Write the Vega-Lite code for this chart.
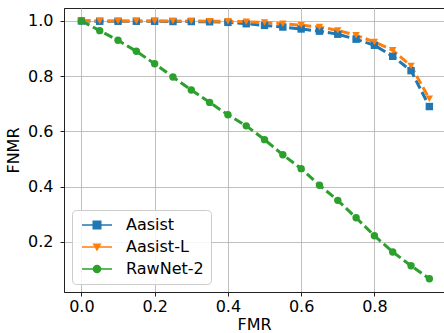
{
  "$schema": "https://vega.github.io/schema/vega-lite/v6.json",
  "width": 380,
  "height": 284,
  "autosize": {"type": "none"},
  "padding": {"left": 64, "top": 8, "right": 0, "bottom": 41},
  "background": "white",
  "config": {
    "font": "DejaVu Sans",
    "view": {"stroke": "#222", "strokeWidth": 1},
    "axis": {
      "labelFont": "DejaVu Sans", "titleFont": "DejaVu Sans",
      "labelFontSize": 16, "titleFontSize": 16, "titleFontWeight": "normal",
      "labelColor": "#000", "titleColor": "#000",
      "domainColor": "#222", "tickColor": "#222", "tickSize": 4,
      "gridColor": "#b0b0b0", "gridWidth": 0.8, "labelPadding": 4
    },
    "legend": {"labelFont": "DejaVu Sans", "labelFontSize": 16, "labelColor": "#000"}
  },
  "data": {"values": [
    {"model": "Aasist", "fmr": 0.00, "fnmr": 1.0},
    {"model": "Aasist", "fmr": 0.05, "fnmr": 0.999},
    {"model": "Aasist", "fmr": 0.10, "fnmr": 0.999},
    {"model": "Aasist", "fmr": 0.15, "fnmr": 0.999},
    {"model": "Aasist", "fmr": 0.20, "fnmr": 0.999},
    {"model": "Aasist", "fmr": 0.25, "fnmr": 0.998},
    {"model": "Aasist", "fmr": 0.30, "fnmr": 0.998},
    {"model": "Aasist", "fmr": 0.35, "fnmr": 0.997},
    {"model": "Aasist", "fmr": 0.40, "fnmr": 0.995},
    {"model": "Aasist", "fmr": 0.45, "fnmr": 0.99},
    {"model": "Aasist", "fmr": 0.50, "fnmr": 0.984},
    {"model": "Aasist", "fmr": 0.55, "fnmr": 0.978},
    {"model": "Aasist", "fmr": 0.60, "fnmr": 0.971},
    {"model": "Aasist", "fmr": 0.65, "fnmr": 0.963},
    {"model": "Aasist", "fmr": 0.70, "fnmr": 0.952},
    {"model": "Aasist", "fmr": 0.75, "fnmr": 0.934},
    {"model": "Aasist", "fmr": 0.80, "fnmr": 0.912},
    {"model": "Aasist", "fmr": 0.85, "fnmr": 0.872},
    {"model": "Aasist", "fmr": 0.90, "fnmr": 0.82},
    {"model": "Aasist", "fmr": 0.95, "fnmr": 0.69},
    {"model": "Aasist-L", "fmr": 0.00, "fnmr": 1.0},
    {"model": "Aasist-L", "fmr": 0.05, "fnmr": 1.0},
    {"model": "Aasist-L", "fmr": 0.10, "fnmr": 1.0},
    {"model": "Aasist-L", "fmr": 0.15, "fnmr": 1.0},
    {"model": "Aasist-L", "fmr": 0.20, "fnmr": 1.0},
    {"model": "Aasist-L", "fmr": 0.25, "fnmr": 1.0},
    {"model": "Aasist-L", "fmr": 0.30, "fnmr": 1.0},
    {"model": "Aasist-L", "fmr": 0.35, "fnmr": 0.999},
    {"model": "Aasist-L", "fmr": 0.40, "fnmr": 0.999},
    {"model": "Aasist-L", "fmr": 0.45, "fnmr": 0.997},
    {"model": "Aasist-L", "fmr": 0.50, "fnmr": 0.995},
    {"model": "Aasist-L", "fmr": 0.55, "fnmr": 0.99},
    {"model": "Aasist-L", "fmr": 0.60, "fnmr": 0.985},
    {"model": "Aasist-L", "fmr": 0.65, "fnmr": 0.978},
    {"model": "Aasist-L", "fmr": 0.70, "fnmr": 0.966},
    {"model": "Aasist-L", "fmr": 0.75, "fnmr": 0.948},
    {"model": "Aasist-L", "fmr": 0.80, "fnmr": 0.924},
    {"model": "Aasist-L", "fmr": 0.85, "fnmr": 0.894},
    {"model": "Aasist-L", "fmr": 0.90, "fnmr": 0.837},
    {"model": "Aasist-L", "fmr": 0.95, "fnmr": 0.718},
    {"model": "RawNet-2", "fmr": 0.00, "fnmr": 1.0},
    {"model": "RawNet-2", "fmr": 0.05, "fnmr": 0.965},
    {"model": "RawNet-2", "fmr": 0.10, "fnmr": 0.93},
    {"model": "RawNet-2", "fmr": 0.15, "fnmr": 0.89},
    {"model": "RawNet-2", "fmr": 0.20, "fnmr": 0.845},
    {"model": "RawNet-2", "fmr": 0.25, "fnmr": 0.797},
    {"model": "RawNet-2", "fmr": 0.30, "fnmr": 0.75},
    {"model": "RawNet-2", "fmr": 0.35, "fnmr": 0.705},
    {"model": "RawNet-2", "fmr": 0.40, "fnmr": 0.66},
    {"model": "RawNet-2", "fmr": 0.45, "fnmr": 0.62},
    {"model": "RawNet-2", "fmr": 0.50, "fnmr": 0.57},
    {"model": "RawNet-2", "fmr": 0.55, "fnmr": 0.515},
    {"model": "RawNet-2", "fmr": 0.60, "fnmr": 0.465},
    {"model": "RawNet-2", "fmr": 0.65, "fnmr": 0.405},
    {"model": "RawNet-2", "fmr": 0.70, "fnmr": 0.35},
    {"model": "RawNet-2", "fmr": 0.75, "fnmr": 0.287},
    {"model": "RawNet-2", "fmr": 0.80, "fnmr": 0.222},
    {"model": "RawNet-2", "fmr": 0.85, "fnmr": 0.163},
    {"model": "RawNet-2", "fmr": 0.90, "fnmr": 0.113},
    {"model": "RawNet-2", "fmr": 0.95, "fnmr": 0.066}
  ]},
  "encoding": {
    "x": {"field": "fmr", "type": "quantitative", "title": "FMR",
      "scale": {"domain": [-0.0475, 0.99], "nice": false, "zero": false},
      "axis": {"values": [0, 0.2, 0.4, 0.6, 0.8], "format": ".1f", "labelPadding": 2, "titlePadding": 2}},
    "y": {"field": "fnmr", "type": "quantitative", "title": "FNMR",
      "scale": {"domain": [0.018, 1.047], "nice": false, "zero": false},
      "axis": {"values": [0.2, 0.4, 0.6, 0.8, 1.0], "format": ".1f", "labelPadding": 7, "titlePadding": 6}}
  },
  "layer": [
    {
      "mark": {"type": "line", "strokeWidth": 3, "strokeDash": [9, 4], "clip": true},
      "encoding": {
        "color": {"field": "model", "type": "nominal", "legend": null,
          "scale": {"domain": ["Aasist", "Aasist-L", "RawNet-2"], "range": ["#1f77b4", "#ff7f0e", "#2ca02c"]}},
        "detail": {"field": "model"}}
    },
    {
      "mark": {"type": "point", "filled": true, "opacity": 1, "size": 55, "clip": true},
      "encoding": {
        "color": {"field": "model", "type": "nominal", "legend": null,
          "scale": {"domain": ["Aasist", "Aasist-L", "RawNet-2"], "range": ["#1f77b4", "#ff7f0e", "#2ca02c"]}},
        "shape": {"field": "model", "type": "nominal", "legend": null,
          "scale": {"domain": ["Aasist", "Aasist-L", "RawNet-2"], "range": ["square", "triangle-down", "circle"]}}
      }
    },
    {
      "transform": [{"filter": "datum.fmr > 5"}],
      "mark": {"type": "point", "filled": true, "opacity": 1},
      "encoding": {
        "color": {"field": "model", "type": "nominal",
          "scale": {"domain": ["Aasist", "Aasist-L", "RawNet-2"], "range": ["#1f77b4", "#ff7f0e", "#2ca02c"]},
          "legend": {
            "title": null, "orient": "bottom-left", "offset": 8,
            "symbolSize": 100, "labelOffset": 31, "rowPadding": 6,
            "fillColor": "rgba(255,255,255,0.85)", "strokeColor": "#cccccc", "cornerRadius": 4, "padding": 7
          }},
        "shape": {"field": "model", "type": "nominal",
          "legend": {
            "title": null, "orient": "bottom-left", "offset": 8,
            "symbolSize": 100, "labelOffset": 31, "rowPadding": 6,
            "fillColor": "rgba(255,255,255,0.85)", "strokeColor": "#cccccc", "cornerRadius": 4, "padding": 7
          },
          "scale": {"domain": ["Aasist", "Aasist-L", "RawNet-2"], "range": [
            "M-1,-0.15H5V0.15H-1Z M1.1,-0.9H2.9V0.9H1.1Z",
            "M-1,-0.15H5V0.15H-1Z M1.1,-0.7H2.9L2,0.9Z",
            "M-1,-0.15H5V0.15H-1Z M2.85,0A0.85,0.85,0,1,1,1.15,0A0.85,0.85,0,1,1,2.85,0Z"
          ]}}
      }
    }
  ],
  "resolve": {"scale": {"shape": "independent", "color": "independent"}}
}
